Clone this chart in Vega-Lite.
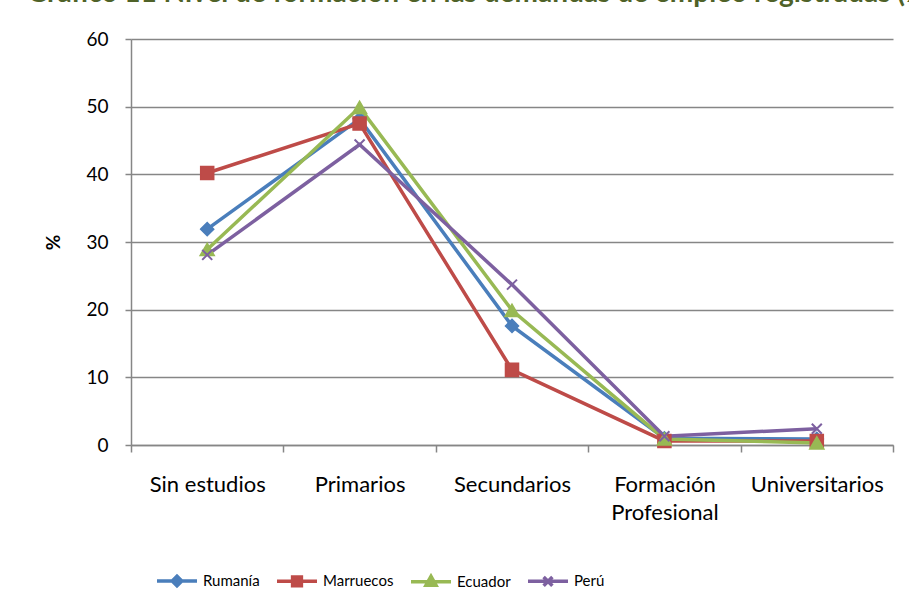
{
  "$schema": "https://vega.github.io/schema/vega-lite/v6.json",
  "width": 762,
  "height": 406,
  "autosize": {"type": "none"},
  "padding": {"left": 131, "top": 39, "right": 16, "bottom": 162},
  "background": "white",
  "title": {
    "text": "Gráfico 11 Nivel de formación en las demandas de empleo registradas (%)",
    "anchor": "start",
    "frame": "group",
    "font": "Lato",
    "fontSize": 28,
    "fontWeight": "bold",
    "color": "#4F6228",
    "baseline": "alphabetic",
    "dx": -104,
    "offset": 0
  },
  "data": {
    "values": [
      {"nivel": "Sin estudios", "pais": "Rumanía", "valor": 31.9},
      {"nivel": "Primarios", "pais": "Rumanía", "valor": 48.2},
      {"nivel": "Secundarios", "pais": "Rumanía", "valor": 17.6},
      {"nivel": "Formación Profesional", "pais": "Rumanía", "valor": 1.0},
      {"nivel": "Universitarios", "pais": "Rumanía", "valor": 0.9},
      {"nivel": "Sin estudios", "pais": "Marruecos", "valor": 40.2},
      {"nivel": "Primarios", "pais": "Marruecos", "valor": 47.5},
      {"nivel": "Secundarios", "pais": "Marruecos", "valor": 11.1},
      {"nivel": "Formación Profesional", "pais": "Marruecos", "valor": 0.6},
      {"nivel": "Universitarios", "pais": "Marruecos", "valor": 0.6},
      {"nivel": "Sin estudios", "pais": "Ecuador", "valor": 28.9},
      {"nivel": "Primarios", "pais": "Ecuador", "valor": 49.9},
      {"nivel": "Secundarios", "pais": "Ecuador", "valor": 19.9},
      {"nivel": "Formación Profesional", "pais": "Ecuador", "valor": 0.9},
      {"nivel": "Universitarios", "pais": "Ecuador", "valor": 0.3},
      {"nivel": "Sin estudios", "pais": "Perú", "valor": 28.1},
      {"nivel": "Primarios", "pais": "Perú", "valor": 44.4},
      {"nivel": "Secundarios", "pais": "Perú", "valor": 23.7},
      {"nivel": "Formación Profesional", "pais": "Perú", "valor": 1.3},
      {"nivel": "Universitarios", "pais": "Perú", "valor": 2.4}
    ]
  },
  "encoding": {
    "x": {
      "field": "nivel",
      "type": "nominal",
      "sort": ["Sin estudios", "Primarios", "Secundarios", "Formación Profesional", "Universitarios"],
      "scale": {"paddingInner": 0, "paddingOuter": 0},
      "axis": {
        "title": null,
        "labelAngle": 0,
        "tickBand": "extent",
        "grid": false,
        "domainColor": "#868686",
        "domainWidth": 1.5,
        "tickColor": "#868686",
        "tickWidth": 1.5,
        "tickSize": 7,
        "labelPadding": 22,
        "labelFont": "Lato",
        "labelFontSize": 22,
        "labelColor": "#000000",
        "labelLineHeight": 28,
        "labelExpr": "datum.value == 'Formación Profesional' ? ['Formación', 'Profesional'] : datum.value"
      }
    },
    "y": {
      "field": "valor",
      "type": "quantitative",
      "scale": {"domain": [0, 60], "nice": false},
      "axis": {
        "title": "%",
        "titleFont": "Lato",
        "titleFontSize": 19,
        "titleFontWeight": "bold",
        "titleColor": "#000000",
        "titlePadding": 22,
        "values": [0, 10, 20, 30, 40, 50, 60],
        "grid": true,
        "gridColor": "#868686",
        "gridWidth": 1.5,
        "domainColor": "#868686",
        "domainWidth": 1.5,
        "tickColor": "#868686",
        "tickWidth": 1.5,
        "tickSize": 6,
        "labelPadding": 17,
        "labelFont": "Lato",
        "labelFontSize": 19,
        "labelColor": "#000000"
      }
    },
    "color": {
      "field": "pais",
      "type": "nominal",
      "sort": ["Rumanía", "Marruecos", "Ecuador", "Perú"],
      "scale": {
        "domain": ["Rumanía", "Marruecos", "Ecuador", "Perú"],
        "range": ["#4A7EBB", "#BE4B48", "#98B954", "#7D60A0"]
      },
      "legend": {
        "title": null,
        "orient": "none",
        "direction": "horizontal",
        "legendX": 24,
        "legendY": 520,
        "padding": 0,
        "columnPadding": 10,
        "labelOffset": 4,
        "labelFont": "Lato",
        "labelFontSize": 15,
        "labelColor": "#000000",
        "symbolSize": 1600,
        "symbolStrokeWidth": 3.5,
        "symbolOpacity": 1
      }
    }
  },
  "layer": [
    {
      "mark": {"type": "line", "strokeWidth": 3.5}
    },
    {
      "mark": {"type": "point", "filled": true, "opacity": 0, "size": 1600, "strokeWidth": 3.5},
      "encoding": {
        "shape": {
          "field": "pais",
          "type": "nominal",
          "sort": ["Rumanía", "Marruecos", "Ecuador", "Perú"],
          "scale": {
            "domain": ["Rumanía", "Marruecos", "Ecuador", "Perú"],
            "range": [
              "M-1,0H1M0,-0.24L0.24,0L0,0.24L-0.24,0Z",
              "M-1,0H1M-0.22,-0.22H0.22V0.22H-0.22Z",
              "M-1,0H1M0,-0.27L0.25,0.18H-0.25Z",
              "M-1,0H1M-0.22,-0.22L0.22,0.22M-0.22,0.22L0.22,-0.22"
            ]
          },
          "legend": {
            "title": null,
            "orient": "none",
            "direction": "horizontal",
            "legendX": 24,
            "legendY": 520,
            "padding": 0,
            "columnPadding": 10,
            "labelOffset": 4,
            "labelFont": "Lato",
            "labelFontSize": 15,
            "labelColor": "#000000",
            "symbolSize": 1600,
            "symbolStrokeWidth": 3.5,
            "symbolOpacity": 1
          }
        },
        "stroke": {
          "field": "pais",
          "type": "nominal",
          "scale": {
            "domain": ["Rumanía", "Marruecos", "Ecuador", "Perú"],
            "range": ["#4A7EBB", "#BE4B48", "#98B954", "#7D60A0"]
          },
          "legend": null
        }
      }
    },
    {
      "transform": [{"filter": "datum.pais === 'Rumanía'"}],
      "mark": {"type": "point", "shape": "diamond", "filled": true, "opacity": 1, "size": 170, "strokeWidth": 1.5, "stroke": "#4A7EBB"}
    },
    {
      "transform": [{"filter": "datum.pais === 'Marruecos'"}],
      "mark": {"type": "point", "shape": "square", "filled": true, "opacity": 1, "size": 170, "strokeWidth": 1.5, "stroke": "#BE4B48"}
    },
    {
      "transform": [{"filter": "datum.pais === 'Ecuador'"}],
      "mark": {"type": "point", "shape": "triangle-up", "filled": true, "opacity": 1, "size": 200, "strokeWidth": 1.5, "stroke": "#98B954"}
    },
    {
      "transform": [{"filter": "datum.pais === 'Perú'"}],
      "mark": {"type": "point", "shape": "M-1,-1L1,1M-1,1L1,-1", "filled": true, "opacity": 1, "size": 100, "strokeWidth": 2, "stroke": "#7D60A0"}
    }
  ],
  "config": {
    "view": {"stroke": null},
    "font": "Lato"
  }
}
